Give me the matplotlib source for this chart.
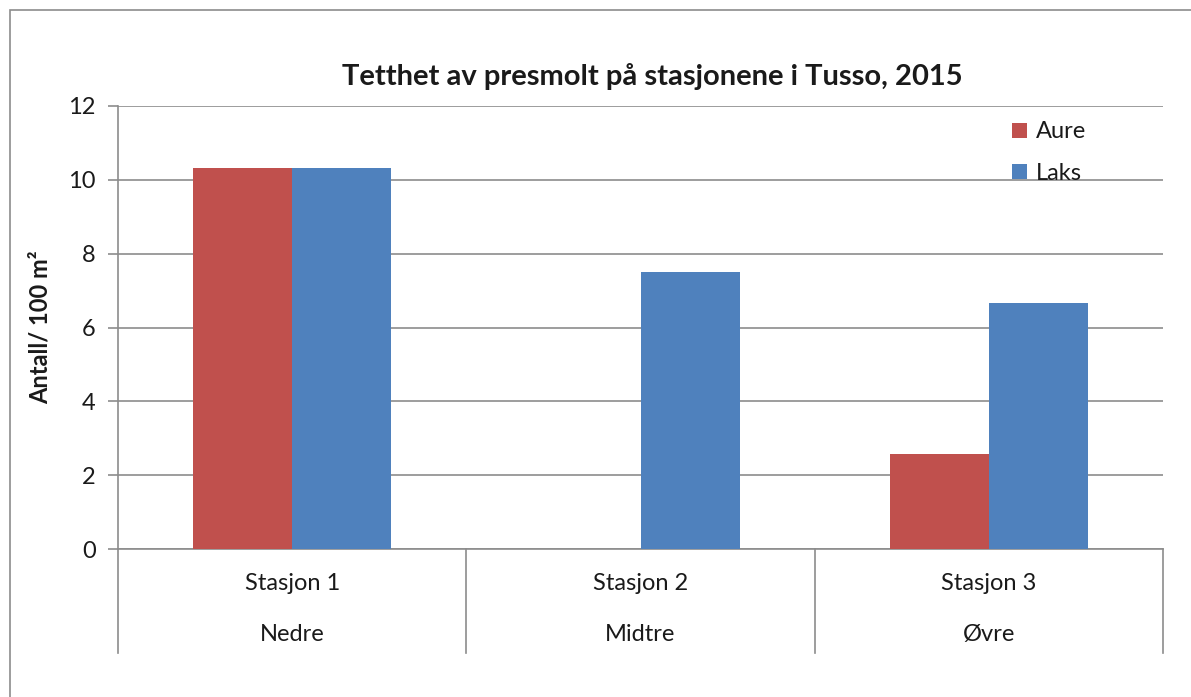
import matplotlib.pyplot as plt
import matplotlib.transforms as mtransforms
from matplotlib.patches import Rectangle
import numpy as np

plt.rcParams['font.family'] = ['Lato', 'DejaVu Sans']

# data
stations = ['Stasjon 1', 'Stasjon 2', 'Stasjon 3']
sections = ['Nedre', 'Midtre', 'Øvre']
aure = [10.33, 0, 2.57]
laks = [10.33, 7.5, 6.67]
yticks = [0, 2, 4, 6, 8, 10, 12]

red = '#C0504D'
blue = '#4F81BD'
grey = '#8C8C8C'
txt = '#1a1a1a'

W, H = 1191, 697
fig = plt.figure(figsize=(W / 100, H / 100), dpi=100, facecolor='white')

# chart area border (cut off at right/bottom like the screenshot)
fig.patches.append(Rectangle((10 / W, -0.1), 1.2, 1 - 10 / H + 0.1,
                             transform=fig.transFigure, fill=False,
                             edgecolor=grey, linewidth=1.2))

# plot area in pixels: x 118..1163, y 106..549
ax = fig.add_axes([118 / W, 1 - 549 / H, (1163 - 118) / W, (549 - 106) / H])

x = np.arange(len(stations))
bw = 0.2845
ax.bar(x - bw / 2, aure, bw, color=red, label='Aure', zorder=3)
ax.bar(x + bw / 2, laks, bw, color=blue, label='Laks', zorder=3)

ax.set_xlim(-0.5, 2.5)
ax.set_ylim(0, 12)
ax.set_yticks(yticks)
ax.yaxis.grid(True, color=grey, linewidth=1.2, zorder=0)
ax.tick_params(axis='y', length=7, width=1.2, color=grey, pad=9,
               labelsize=17, labelcolor=txt)
ax.tick_params(axis='x', length=0, labelbottom=False)

for s in ['top', 'right']:
    ax.spines[s].set_visible(False)
for s in ['left', 'bottom']:
    ax.spines[s].set_color(grey)
    ax.spines[s].set_linewidth(1.2)

# two-level category axis
trans = mtransforms.blended_transform_factory(ax.transData, ax.transAxes)
for b in np.arange(len(stations) + 1) - 0.5:
    ax.plot([b, b], [0, -0.2348], color=grey, linewidth=1.2,
            transform=trans, clip_on=False)
for i, (st, sec) in enumerate(zip(stations, sections)):
    ax.text(i, -0.077, st, transform=trans, ha='center', va='center',
            fontsize=17, color=txt)
    ax.text(i, -0.194, sec, transform=trans, ha='center', va='center',
            fontsize=17, color=txt)

ax.set_ylabel('Antall/ 100 m²', fontsize=17, fontweight='bold', labelpad=12,
              color=txt)

fig.text(652 / W, 1 - 77 / H, 'Tetthet av presmolt på stasjonene i Tusso, 2015',
         ha='center', va='center', fontsize=21, fontweight='bold', color=txt)

leg = ax.legend(loc='upper left', bbox_to_anchor=(1003 / W, 1 - 112 / H),
                bbox_transform=fig.transFigure, frameon=False, fontsize=17,
                labelcolor=txt, handlelength=0.6, handleheight=0.6,
                handletextpad=0.4, labelspacing=0.85, borderaxespad=0)

fig.savefig('out.png', dpi=100, facecolor='white')
